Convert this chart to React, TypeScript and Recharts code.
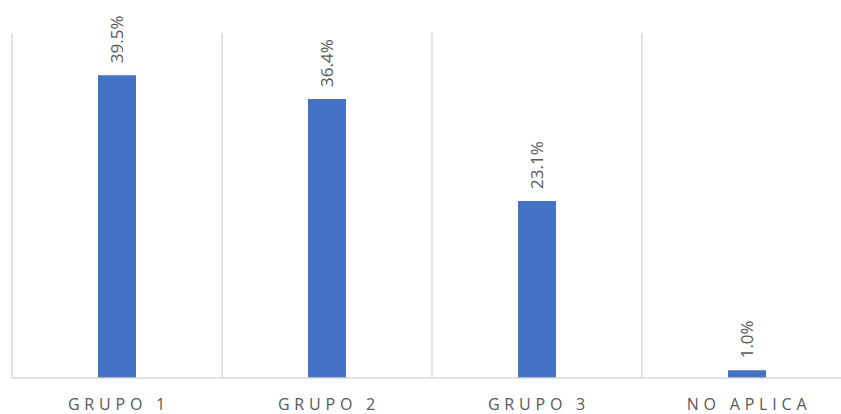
import { Bar, BarChart, CartesianGrid, LabelList, XAxis, YAxis } from "recharts";

const categories = ["GRUPO 1", "GRUPO 2", "GRUPO 3", "NO APLICA"];
const shares = [39.5, 36.4, 23.1, 1.0];

const data = categories.map((name, i) => ({ name, share: shares[i] }));

const FONT = "'Open Sans', 'Liberation Sans', sans-serif";

function Tick({ x, y, payload }: any) {
  return (
    <text
      x={x + 2}
      y={y + 24}
      textAnchor="middle"
      fill="#595959"
      fontFamily={FONT}
      fontSize={16}
      letterSpacing={4.8}
    >
      {payload.value}
    </text>
  );
}

function BarLabel({ x, y, width, value }: any) {
  const cx = x + width / 2;
  const cy = y - 12;
  return (
    <text
      x={cx}
      y={cy}
      transform={`rotate(-90 ${cx} ${cy})`}
      textAnchor="start"
      dominantBaseline="central"
      fill="#595959"
      fontFamily={FONT}
      fontSize={17}
    >
      {`${Number(value).toFixed(1)}%`}
    </text>
  );
}

export default function App() {
  return (
    <div
      style={{
        position: "absolute",
        left: 0,
        top: 0,
        width: 841,
        height: 414,
        overflow: "hidden",
        background: "#fff",
      }}
    >
      <BarChart
        width={860}
        height={414}
        data={data}
        margin={{ top: 33, right: 8, bottom: 0, left: 12 }}
        barSize={38}
      >
        <CartesianGrid
          horizontal={false}
          stroke="#d9d9d9"
          strokeWidth={1.5}
          verticalCoordinatesGenerator={({ offset }: any) =>
            categories.map((_, i) => offset.left + (i * offset.width) / categories.length).concat(offset.left + offset.width)
          }
        />
        <XAxis
          dataKey="name"
          height={36}
          tickLine={false}
          axisLine={{ stroke: "#d9d9d9", strokeWidth: 1.5 }}
          tick={<Tick />}
          interval={0}
        />
        <YAxis hide domain={[0, 45]} />
        <Bar dataKey="share" fill="#4472C4" isAnimationActive={false}>
          <LabelList dataKey="share" content={<BarLabel />} />
        </Bar>
      </BarChart>
    </div>
  );
}
